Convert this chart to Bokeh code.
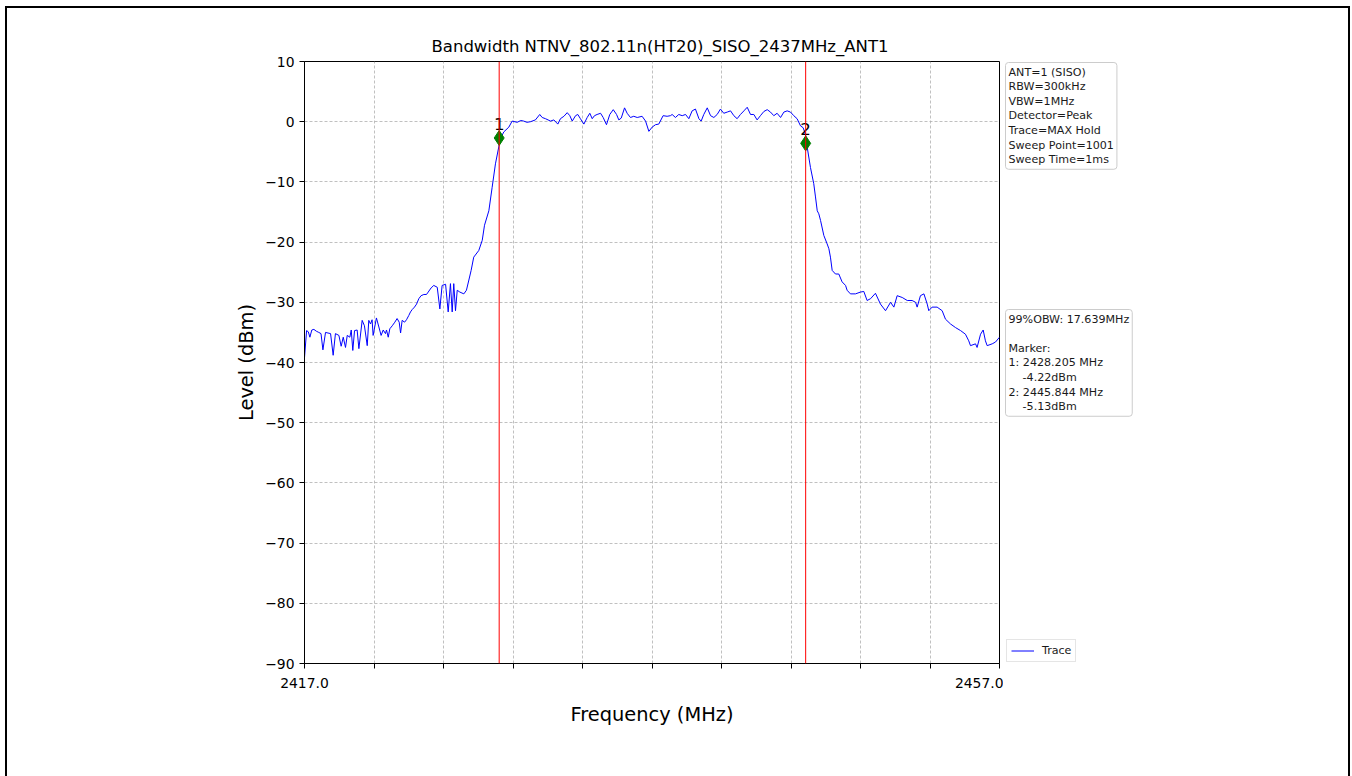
from bokeh.plotting import figure
from bokeh.layouts import row
from bokeh.models import Range1d, FixedTicker, Span, Label, Legend, LegendItem, ColumnDataSource
from bokeh.core.properties import value
from bokeh.embed import file_html
from bokeh.resources import INLINE

title_text = "Bandwidth NTNV_802.11n(HT20)_SISO_2437MHz_ANT1"
x_label = "Frequency (MHz)"
y_label = "Level (dBm)"

freq = [
    2417.00, 2417.12, 2417.22, 2417.31, 2417.42, 2417.54, 2417.68, 2417.82, 2417.95, 2418.06,
    2418.21, 2418.35, 2418.50, 2418.65, 2418.78, 2418.98, 2419.11, 2419.23, 2419.36, 2419.46,
    2419.61, 2419.69, 2419.78, 2419.88, 2420.03, 2420.13, 2420.32, 2420.45, 2420.61, 2420.70,
    2420.80, 2420.89, 2420.95, 2421.14, 2421.28, 2421.41, 2421.53, 2421.66, 2421.72, 2421.82,
    2421.91, 2422.05, 2422.20, 2422.33, 2422.45, 2422.53, 2422.62, 2422.76, 2422.87, 2423.00,
    2423.10, 2423.20, 2423.33, 2423.45, 2423.58, 2423.71, 2423.87, 2424.02, 2424.12, 2424.29,
    2424.44, 2424.64, 2424.79, 2424.92, 2425.12, 2425.27, 2425.40, 2425.50, 2425.59, 2425.69,
    2425.79, 2425.94, 2426.17, 2426.32, 2426.46, 2426.59, 2426.74, 2427.03, 2427.23, 2427.36,
    2427.61, 2427.80, 2427.99, 2428.18, 2428.28, 2428.47, 2428.76, 2428.95,
    2429.24, 2429.45, 2429.62, 2429.80, 2430.01, 2430.29, 2430.54, 2430.68, 2430.87, 2431.16,
    2431.35, 2431.58, 2431.73, 2431.93, 2432.12, 2432.27, 2432.41, 2432.60, 2432.73, 2432.88,
    2433.08, 2433.27, 2433.42, 2433.56, 2433.69, 2433.84, 2434.04, 2434.19, 2434.38, 2434.57,
    2434.77, 2434.96, 2435.09, 2435.23, 2435.42, 2435.57, 2435.76, 2435.95, 2436.15, 2436.43,
    2436.63, 2436.82, 2437.01, 2437.20, 2437.39, 2437.64, 2437.87, 2438.06, 2438.16, 2438.35,
    2438.54, 2438.74, 2438.93, 2439.12, 2439.31, 2439.50, 2439.70, 2439.83, 2439.98, 2440.18,
    2440.37, 2440.56, 2440.75, 2440.94, 2441.13, 2441.33, 2441.52, 2441.71, 2441.90, 2442.09,
    2442.29, 2442.48, 2442.67, 2442.86, 2443.05, 2443.24, 2443.44, 2443.63, 2443.82, 2444.01,
    2444.20, 2444.40, 2444.59, 2444.78, 2444.97, 2445.16, 2445.35, 2445.55, 2445.70, 2445.83,
    2445.93, 2446.12, 2446.31, 2446.41, 2446.51, 2446.60, 2446.70, 2446.89, 2447.08, 2447.18,
    2447.27, 2447.37, 2447.56, 2447.75, 2447.94, 2448.14, 2448.23, 2448.42, 2448.71, 2449.00,
    2449.19, 2449.38, 2449.58, 2449.86, 2450.15, 2450.44, 2450.73, 2450.92, 2451.11, 2451.40,
    2451.69, 2451.97, 2452.17, 2452.26, 2452.45, 2452.65, 2452.84, 2452.93, 2453.12, 2453.41,
    2453.70, 2453.89, 2454.18, 2454.47, 2454.76, 2455.04, 2455.23, 2455.33, 2455.62, 2455.71,
    2455.91, 2456.06, 2456.19, 2456.29, 2456.58, 2456.77, 2457.00,
]
level = [
    -39.2, -34.7, -34.9, -35.8, -34.6, -34.5, -34.8, -35.0, -35.2, -37.9,
    -35.0, -35.1, -35.2, -38.8, -35.2, -35.5, -37.3, -35.8, -37.5, -35.5,
    -35.8, -34.6, -38.0, -34.7, -34.6, -37.7, -33.0, -33.9, -37.2, -33.0,
    -33.6, -32.9, -35.5, -32.6, -34.1, -35.5, -34.6, -35.2, -34.6, -35.8,
    -34.4, -33.9, -33.3, -32.7, -33.3, -35.1, -33.0, -33.3, -32.9, -32.2,
    -31.6, -31.2, -30.8, -30.3, -29.4, -28.9, -28.7, -28.7, -28.3, -27.6,
    -27.2, -27.5, -31.1, -27.2, -27.0, -31.6, -26.9, -31.6, -26.9, -31.4,
    -28.0, -28.3, -28.6, -28.0, -26.3, -24.7, -22.5, -21.4, -19.7, -17.2,
    -14.8, -10.9, -7.0, -4.2, -2.8, -1.7, -0.9, 0.1,
    -0.1, 0.2, 0.1, -0.1, 0.0, 0.3, 1.2, 0.7, 0.5, 0.1,
    0.3, -0.4, 0.5, 0.9, 1.5, 1.0, 0.1, 1.0, 1.2, 0.5,
    -0.4, 0.7, 1.4, 0.5, 1.0, 1.2, 1.4, 0.7, -0.5, 1.2,
    2.0, 1.2, 0.3, 0.6, 2.3, 1.4, 0.7, 0.9, 0.7, 0.9,
    0.1, -1.6, -0.9, -0.5, -0.4, 1.0, 0.9, 1.0, 1.2, 0.7,
    1.2, 1.0, 1.2, 0.5, 1.8, 2.1, 0.5, 0.1, 1.2, 2.3,
    1.0, 0.7, 1.2, 2.1, 1.4, 1.6, 1.8, 1.0, 0.5, 1.2,
    1.8, 2.4, 1.2, 1.2, 0.3, 1.0, 1.7, 2.0, 1.6, 1.0,
    1.4, 0.7, 1.6, 1.8, 1.6, 1.0, 0.5, -0.7, -1.0, -2.1,
    -4.2, -7.6, -10.3, -12.5, -14.8, -15.3, -16.4, -18.9, -20.3, -21.1,
    -22.5, -24.7, -25.3, -25.3, -26.6, -27.2, -28.0, -28.6, -28.6, -28.3,
    -28.2, -29.7, -29.4, -28.5, -30.3, -31.4, -30.0, -30.8, -28.9, -29.2,
    -29.7, -29.7, -30.0, -30.8, -28.9, -28.6, -30.3, -31.4, -30.8, -30.8,
    -31.4, -32.8, -33.6, -34.2, -34.7, -35.3, -36.4, -37.2, -36.9, -37.5,
    -35.3, -34.6, -36.4, -37.2, -36.9, -36.6, -35.8,
]

marker_freq = [2428.205, 2445.844]
marker_level = [-2.7, -3.6]
marker_names = ["1", "2"]

x_ticks = [2417, 2421, 2425, 2429, 2433, 2437, 2441, 2445, 2449, 2453, 2457]
x_tick_labels = {2417: "2417.0", 2457: "2457.0"}
y_ticks = [10, 0, -10, -20, -30, -40, -50, -60, -70, -80, -90]

settings_lines = ["ANT=1 (SISO)", "RBW=300kHz", "VBW=1MHz", "Detector=Peak",
                  "Trace=MAX Hold", "Sweep Point=1001", "Sweep Time=1ms"]
result_lines = ["99%OBW: 17.639MHz", "", "Marker:", "1: 2428.205 MHz",
                "\u00a0\u00a0\u00a0\u00a0-4.22dBm", "2: 2445.844 MHz", "\u00a0\u00a0\u00a0\u00a0-5.13dBm"]

FONT = "DejaVu Sans"
W_MAIN, W_SIDE, H = 1003, 349, 776
BORDER_TOP, BORDER_BOTTOM = 61, 113

# ---------------- main chart ----------------
p = figure(width=W_MAIN, height=H, x_range=Range1d(2417, 2457), y_range=Range1d(-90, 10),
           output_backend="svg", toolbar_location=None,
           min_border_left=304, min_border_right=4,
           min_border_top=BORDER_TOP, min_border_bottom=BORDER_BOTTOM)
p.background_fill_color = "white"
p.border_fill_color = None
p.outline_line_color = "black"
p.outline_line_width = 1
p.outline_line_alpha = 1

p.title.text = title_text
p.title.align = "left"
p.title.offset = 127
p.title.text_font = FONT
p.title.text_font_size = "16.5px"
p.title.text_font_style = "normal"
p.title.text_color = "black"
p.title.standoff = 11

for ax in (p.xaxis[0], p.yaxis[0]):
    ax.axis_line_color = "black"
    ax.major_tick_line_color = "black"
    ax.major_tick_out = 5
    ax.major_tick_in = 0
    ax.minor_tick_line_color = None
    ax.major_label_text_font = FONT
    ax.major_label_text_font_size = "13.9px"
    ax.major_label_text_color = "black"
    ax.axis_label_text_font = FONT
    ax.axis_label_text_font_style = "normal"
    ax.axis_label_text_font_size = "19.4px"
    ax.axis_label_text_color = "black"

p.xaxis.ticker = FixedTicker(ticks=x_ticks)
p.xaxis.major_label_overrides = {t: x_tick_labels.get(t, "") for t in x_ticks}
p.xaxis.axis_label = x_label
p.xaxis.major_label_standoff = 9
p.xaxis.axis_label_standoff = 12
p.yaxis.ticker = FixedTicker(ticks=y_ticks)
p.yaxis.major_label_overrides = {t: (str(t).replace("-", "\u2212")) for t in y_ticks}
p.yaxis.axis_label = y_label
p.yaxis.major_label_standoff = 5
p.yaxis.axis_label_standoff = 4

p.xgrid.ticker = FixedTicker(ticks=x_ticks)
p.ygrid.ticker = FixedTicker(ticks=y_ticks)
for g in (p.xgrid[0], p.ygrid[0]):
    g.grid_line_color = "#b0b0b0"
    g.grid_line_dash = "3 2"
    g.grid_line_width = 0.8

src = ColumnDataSource(dict(freq=freq, level=level))
trace = p.line("freq", "level", source=src, line_color="blue", line_width=1.0)

for mf in marker_freq:
    p.add_layout(Span(location=mf, dimension="height", line_color="red", line_width=1))

msrc = ColumnDataSource(dict(freq=marker_freq, level=marker_level, name=marker_names))
p.scatter("freq", "level", source=msrc, marker="diamond", size=15, fill_color="green", line_color="green")
p.text("freq", "level", text="name", source=msrc, text_align="center", text_baseline="bottom",
       y_offset=-8, text_font=value(FONT), text_font_size="16.7px", text_color="black")

# ---------------- side panel (info boxes + legend), canvas-pixel coordinates ----------------
s = figure(width=W_SIDE, height=H, x_range=Range1d(0, W_SIDE),
           y_range=Range1d(H - BORDER_BOTTOM, BORDER_TOP),
           output_backend="svg", toolbar_location=None, x_axis_location=None, y_axis_location=None,
           min_border_left=0, min_border_right=0,
           min_border_top=BORDER_TOP, min_border_bottom=BORDER_BOTTOM)
s.grid.visible = False
s.outline_line_color = None
s.background_fill_color = None
s.border_fill_color = None

# off-screen stand-in so the legend can draw its line sample
legend_glyph = s.line(x=[-20, -10], y=[0, 0], line_color="blue", line_width=1.0)
legend = Legend(items=[LegendItem(label="Trace", renderers=[legend_glyph])], location=(3, 1),
                margin=0, padding=4, spacing=0, glyph_width=23, glyph_height=13, label_height=13,
                label_standoff=8, label_text_font=FONT, label_text_font_size="11.1px",
                label_text_color="#1a1a1a", border_line_color="#cccccc", border_line_width=1,
                background_fill_color="white", background_fill_alpha=0.8)
s.add_layout(legend)

box_kw = dict(text_font=FONT, text_font_size="11.1px",
              text_color="#1a1a1a", text_align="left", text_baseline="top",
              background_fill_color="white", background_fill_alpha=0.8,
              border_line_color="#cccccc", border_line_width=1, padding=3, border_radius=3,
              text_line_height=1.125)
s.add_layout(Label(x=2, y=62, text="\n".join(settings_lines), **box_kw))
s.add_layout(Label(x=2, y=309, text="\n".join(result_lines), **box_kw))

layout = row(p, s, spacing=0)
# page frame lines (left, top, right) drawn behind the transparent canvas borders
layout.styles = {"background": "white",
                 "box-shadow": ("inset 5px 0 0 0 white, inset 0 6px 0 0 white, inset -2px 0 0 0 white, "
                                "inset 7px 0 0 0 black, inset 0 8px 0 0 black, inset -4px 0 0 0 black")}

open("out.html", "w").write(file_html(layout, INLINE))
